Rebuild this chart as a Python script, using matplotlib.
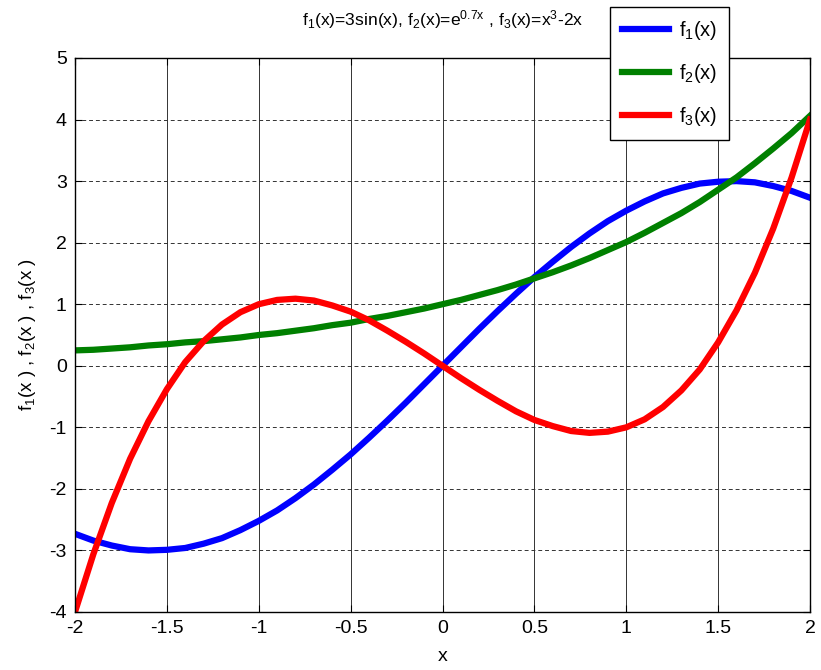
import matplotlib
matplotlib.use("Agg")
import matplotlib.pyplot as plt

plt.rcParams["font.family"] = ["Liberation Sans", "DejaVu Sans"]
plt.rcParams["mathtext.default"] = "regular"
plt.rcParams["axes.unicode_minus"] = False

# sample points, step 0.1
x = [round(-2 + 0.1 * i, 1) for i in range(41)]

f1 = [-2.73, -2.84, -2.92, -2.98, -3.00, -2.99, -2.96, -2.89, -2.80, -2.67,
      -2.52, -2.35, -2.15, -1.93, -1.69, -1.44, -1.17, -0.89, -0.60, -0.30,
      0.00,
      0.30, 0.60, 0.89, 1.17, 1.44, 1.69, 1.93, 2.15, 2.35, 2.52,
      2.67, 2.80, 2.89, 2.96, 2.99, 3.00, 2.98, 2.92, 2.84, 2.73]

f2 = [0.25, 0.26, 0.28, 0.30, 0.33, 0.35, 0.38, 0.40, 0.43, 0.46,
      0.50, 0.53, 0.57, 0.61, 0.66, 0.70, 0.76, 0.81, 0.87, 0.93,
      1.00,
      1.07, 1.15, 1.23, 1.32, 1.42, 1.52, 1.63, 1.75, 1.88, 2.01,
      2.16, 2.32, 2.48, 2.66, 2.86, 3.06, 3.29, 3.53, 3.78, 4.06]

f3 = [-4.00, -3.06, -2.23, -1.51, -0.90, -0.38, 0.06, 0.40, 0.67, 0.87,
      1.00, 1.07, 1.09, 1.06, 0.98, 0.88, 0.74, 0.57, 0.39, 0.20,
      0.00,
      -0.20, -0.39, -0.57, -0.74, -0.88, -0.98, -1.06, -1.09, -1.07, -1.00,
      -0.87, -0.67, -0.40, -0.06, 0.38, 0.90, 1.51, 2.23, 3.06, 4.00]

x_ticks = [-2, -1.5, -1, -0.5, 0, 0.5, 1, 1.5, 2]
y_ticks = [-4, -3, -2, -1, 0, 1, 2, 3, 4, 5]

fig = plt.figure(figsize=(8.21, 6.7), dpi=100)
ax = fig.add_axes([75 / 821, 1 - 612 / 670, 735 / 821, 554 / 670])

lw = 4.5
ax.plot(x, f1, color="#0000ff", lw=lw, label=r"f$_1$(x)")
ax.plot(x, f2, color="#008000", lw=lw, label=r"f$_2$(x)")
ax.plot(x, f3, color="#ff0000", lw=lw, label=r"f$_3$(x)")

ax.set_xlim(-2, 2)
ax.set_ylim(-4, 5)
ax.set_xticks(x_ticks)
ax.set_xticklabels(["-2", "-1.5", "-1", "-0.5", "0", "0.5", "1", "1.5", "2"])
ax.set_yticks(y_ticks)
ax.tick_params(direction="in", top=True, right=True, labelsize=14,
               length=5, width=0.8, pad=6)

# grid: solid verticals, dashed horizontals
ax.grid(axis="x", color="#333333", lw=0.7, ls="-")
ax.grid(axis="y", color="#333333", lw=0.7, ls=(0, (4, 3)))
ax.set_axisbelow(True)
for s in ax.spines.values():
    s.set_linewidth(1.0)

ax.set_xlabel("x", fontsize=14, labelpad=8)
ax.set_ylabel(r"f$_1$(x ) , f$_2$(x ) , f$_3$(x )", fontsize=13.5, labelpad=8)

fig.text(0.539, 0.971, r"f$_1$(x)=3sin(x), f$_2$(x)=e$^{0.7x}$ , f$_3$(x)=x$^3$-2x",
         ha="center", va="center", fontsize=12.6)

leg = ax.legend(loc="upper right", bbox_to_anchor=(729 / 821, 1 - 7 / 670),
                bbox_transform=fig.transFigure, fontsize=14.5, fancybox=False,
                framealpha=1, edgecolor="black", handlelength=2.3,
                handletextpad=0.5, labelspacing=1.0, borderpad=0.6,
                borderaxespad=0)
leg.get_frame().set_linewidth(1.0)

fig.savefig("out.png", dpi=100)
